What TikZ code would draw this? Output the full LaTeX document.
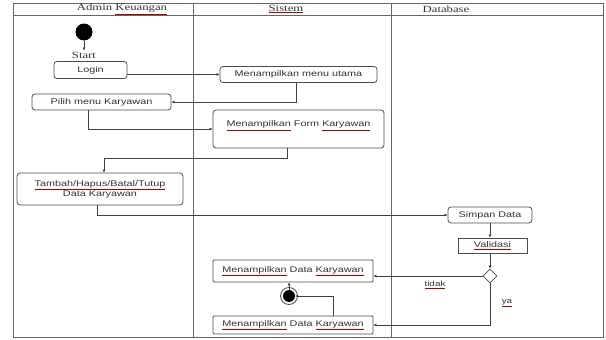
\documentclass[tikz,border=0pt]{standalone}
\usepackage{fontspec}
\usetikzlibrary{shapes.geometric,arrows.meta}
\newfontfamily\boxfont[FakeStretch=1.32]{Liberation Sans}
\newfontfamily\headfont[FakeStretch=1.34]{Liberation Serif}
\newcommand\redul[1]{{\color{red!70!black}\underline{\color{black!80}#1}}}
\begin{document}
\begin{tikzpicture}[x=1pt,y=1pt,
  lane/.style={draw=black!60,line width=0.9pt},
  act/.style={draw=black!70,line width=0.8pt,rounded corners=3pt,inner sep=1pt,
    font=\boxfont\fontsize{8.2}{10}\selectfont,text=black!80,align=center},
  hd/.style={font=\headfont\fontsize{9.5}{11}\selectfont,text=black!80},
  lbl/.style={font=\boxfont\fontsize{7.5}{9}\selectfont,text=black!80},
  flow/.style={draw=black!75,line width=0.8pt,-{Latex[length=3pt,width=3pt]}}]
\useasboundingbox (0,0) rectangle (606,-340);
% frame and lanes
\draw[lane] (13,-3) rectangle (603,-337);
\draw[lane] (13,-15) -- (603,-15);
\draw[lane] (193,-3) -- (193,-337);
\draw[lane] (391,-3) -- (391,-337);
\node[hd] (h1) at (122,-9) {Admin \redul{Keuangan}};
\node[hd] (h2) at (286,-9) {\redul{Sistem}};
\node[hd] (h3) at (446,-9) {Database};
% nodes
\node[circle,fill=black,minimum size=17pt,inner sep=0] (start) at (84,-32) {};
\node[hd,inner sep=1pt] (startlbl) at (84,-55) {Start};
\node[act,minimum width=73pt,minimum height=17pt] (login) at (90.5,-70) {Login};
\node[act,minimum width=157pt,minimum height=16pt] (menu) at (298.5,-74.5) {Menampilkan menu utama};
\node[act,minimum width=139pt,minimum height=16pt] (pilih) at (101.5,-102) {Pilih menu Karyawan};
\node[act,minimum width=171pt,minimum height=38pt] (form) at (298.5,-129) {\redul{Menampilkan} Form \redul{Karyawan}\\\mbox{}};
\node[act,minimum width=166pt,minimum height=32pt] (tambah) at (100,-189) {\redul{Tambah/Hapus/Batal/Tutup}\\Data Karyawan};
\node[act,minimum width=84pt,minimum height=16pt] (simpan) at (490,-215) {Simpan Data};
\node[act,rounded corners=0pt,minimum width=69pt,minimum height=15pt] (valid) at (492.5,-245.5) {\redul{Validasi}};
\node[diamond,draw=black!70,line width=0.8pt,minimum width=14pt,minimum height=14pt,inner sep=0] (dia) at (490,-276) {};
\node[act,rounded corners=1pt,minimum width=160pt,minimum height=22pt] (disp1) at (293,-271) {\redul{Menampilkan} Data \redul{Karyawan}};
\node[circle,fill=black,minimum size=12pt,inner sep=0] (end) at (289,-296) {};
\draw[black!70,line width=0.8pt] (end) circle[radius=8.5];
\node[act,rounded corners=1pt,minimum width=160pt,minimum height=18pt] (disp2) at (293,-325) {\redul{Menampilkan} Data \redul{Karyawan}};
\node[lbl] (tidak) at (435,-285) {\redul{tidak}};
\node[lbl] (ya) at (507,-303) {\redul{ya}};
% flows
\draw[flow] (start) -- (startlbl);
\draw[flow] (login.east |- menu) -- (menu.west);
\draw[flow] ([xshift=-2.5pt]menu.south) |- (pilih.east);
\draw[flow] ([xshift=-13.5pt]pilih.south) |- (form.west);
\draw[flow] ([xshift=-11.5pt]form.south) -- ++(0,-10) -| ([xshift=4pt]tambah.north);
\draw[flow] ([xshift=-3pt]tambah.south) |- (simpan.west);
\draw[flow] (simpan.south) -- (simpan.south |- valid.north);
\draw[flow] (dia.north |- valid.south) -- (dia.north);
\draw[flow] (dia.west) -- (dia.west -| disp1.east);
\draw[flow] (dia.south) |- (disp2.east);
\draw[flow] ([xshift=40pt]disp2.north) |- (end.east);
\draw[flow] (end.north) -- (end.north |- disp1.south);
\end{tikzpicture}
\end{document}
